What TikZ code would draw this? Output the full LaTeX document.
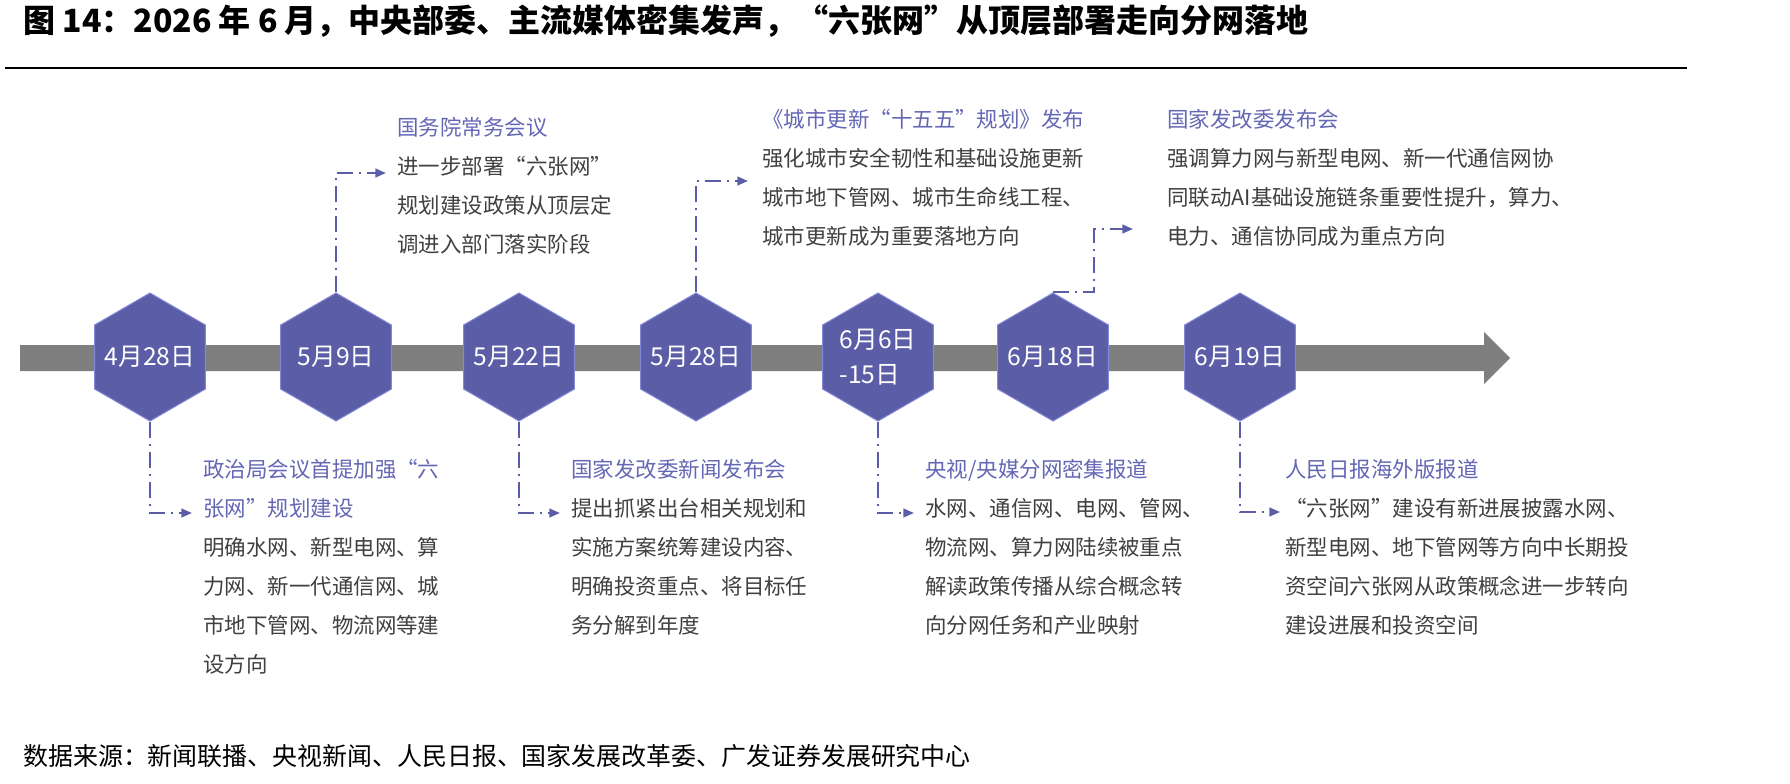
\documentclass[tikz,border=0pt]{standalone}
\usepackage{fontspec}
\setmainfont{Noto Sans CJK SC}
\usetikzlibrary{positioning,arrows.meta,shapes.geometric}
\definecolor{tlHex}{RGB}{91,94,166}
\definecolor{tlEdge}{RGB}{132,136,214}
\definecolor{tlHead}{RGB}{100,103,180}
\definecolor{tlText}{RGB}{64,64,64}
\definecolor{tlBar}{RGB}{127,127,127}
\newcommand{\evhead}[1]{{\color{tlHead}#1}}
\tikzset{
    hexdate/.style={regular polygon, regular polygon sides=6, shape border rotate=30,
                    fill=tlHex, draw=tlEdge, line width=0.75pt, minimum size=96pt,
                    inner sep=0pt},
    datetext/.style={text=white, align=left, inner sep=0pt,
                     font=\fontsize{18.5}{26}\selectfont},
    event/.style={anchor=west, align=left, inner sep=0pt, text=tlText,
                  font=\fontsize{16.1}{29.25}\selectfont},
    link/.style={draw=tlHex, line width=1.6pt,
                 dash pattern=on 12pt off 4.5pt on 1.5pt off 4.5pt,
                 -{Triangle[length=8pt,width=6.5pt]}}
}

\begin{document}
\begin{tikzpicture}[x=0.75pt,y=-0.75pt]
  % page and heading
  \fill[white] (0,0) rectangle (1790,784);
  \useasboundingbox (0,0) rectangle (1790,784);
  \node[anchor=west, inner sep=0pt, font=\fontsize{24}{30}\selectfont\bfseries] (title) at (23,21)
    {图\ 14：2026 年 6 月，中央部委、主流媒体密集发声，“六张网”从顶层部署走向分网落地};
  \draw[line width=1.5pt] (5,68) -- (1687,68);

  % timeline bar
  \fill[tlBar] (20,345) -- (1484,345) -- (1484,332) -- (1510,358) -- (1484,384)
    -- (1484,371) -- (20,371) -- cycle;

  % date hexagons
  \node[hexdate, label={[datetext]center:4月28日}] (d1) at (150,357) {};
  \node[hexdate, label={[datetext]center:5月9日}] (d2) at (336,357) {};
  \node[hexdate, label={[datetext]center:5月22日}] (d3) at (519,357) {};
  \node[hexdate, label={[datetext]center:5月28日}] (d4) at (696,357) {};
  \node[hexdate, label={[datetext]center:6月6日\\-15日}] (d5) at (878,357) {};
  \node[hexdate, label={[datetext]center:6月18日}] (d6) at (1053,357) {};
  \node[hexdate, label={[datetext]center:6月19日}] (d7) at (1240,357) {};

  % events below the bar
  \node[event] (e1) at (203,566.5) {\evhead{政治局会议首提加强“六}\\\evhead{张网”规划建设}\\
    明确水网、新型电网、算\\力网、新一代通信网、城\\市地下管网、物流网等建\\设方向};
  \node[event] (e3) at (571,547) {\evhead{国家发改委新闻发布会}\\提出抓紧出台相关规划和\\
    实施方案统筹建设内容、\\明确投资重点、将目标任\\务分解到年度};
  \node[event] (e5) at (925,547) {\evhead{央视/央媒分网密集报道}\\水网、通信网、电网、管网、\\
    物流网、算力网陆续被重点\\解读政策传播从综合概念转\\向分网任务和产业映射};
  \node[event] (e7) at (1285,547) {\evhead{人民日报海外版报道}\\“六张网”建设有新进展披露水网、\\
    新型电网、地下管网等方向中长期投\\资空间六张网从政策概念进一步转向\\建设进展和投资空间};

  % events above the bar
  \node[event] (e2) at (397,185.5) {\evhead{国务院常务会议}\\进一步部署“六张网”\\
    规划建设政策从顶层定\\调进入部门落实阶段};
  \node[event] (e4) at (762,177.5) {\evhead{《城市更新“十五五”规划》发布}\\强化城市安全韧性和基础设施更新\\
    城市地下管网、城市生命线工程、\\城市更新成为重要落地方向};
  \node[event] (e6) at (1167,177.5) {\evhead{国家发改委发布会}\\强调算力网与新型电网、新一代通信网协\\
    同联动AI基础设施链条重要性提升，算力、\\电力、通信协同成为重点方向};

  % arrow ends
  \coordinate (a1) at (192,513);
  \coordinate (a2) at (386,173);
  \coordinate (a3) at (560,513);
  \coordinate (a4) at (748,181);
  \coordinate (a5) at (914,513);
  \coordinate (a6) at (1133,229);
  \coordinate (a7) at (1280,512);

  % dash-dot leaders
  \draw[link] (d1.270) |- (a1);
  \draw[link] (d2.90) |- (a2);
  \draw[link] (d3.270) |- (a3);
  \draw[link] (d4.90) |- (a4);
  \draw[link] (d5.270) |- (a5);
  \draw[link] (d6.90) -- ++(41,0) |- (a6);
  \draw[link] (d7.270) |- (a7);

  % source
  \node[anchor=west, inner sep=0pt, text=black, font=\fontsize{18.7}{24}\selectfont] (src) at (23,756)
    {数据来源：新闻联播、央视新闻、人民日报、国家发展改革委、广发证券发展研究中心};
\end{tikzpicture}
\end{document}
